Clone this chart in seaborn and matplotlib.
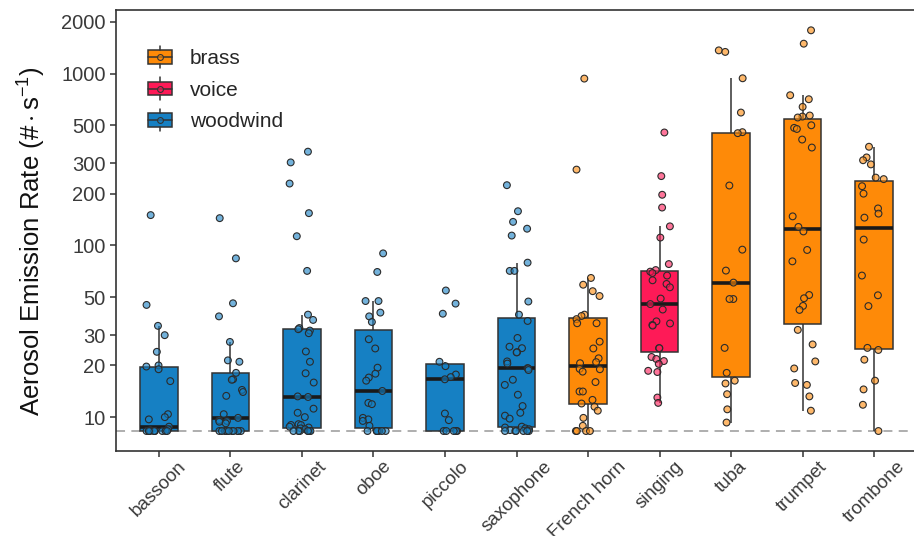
import numpy as np
import pandas as pd
import matplotlib
matplotlib.use("Agg")
import matplotlib.pyplot as plt
import seaborn as sns
from matplotlib.legend_handler import HandlerBase
from matplotlib.patches import Rectangle, Patch
from matplotlib.lines import Line2D
from matplotlib.ticker import FixedLocator, NullLocator, FixedFormatter

# ---- data: aerosol emission rate (#/s) per participant ----
instruments = ["bassoon", "flute", "clarinet", "oboe", "piccolo", "saxophone",
               "French horn", "singing", "tuba", "trumpet", "trombone"]
families = ["woodwind", "woodwind", "woodwind", "woodwind", "woodwind", "woodwind",
            "brass", "voice", "brass", "brass", "brass"]
family_order = ["brass", "voice", "woodwind"]
family_colors = ["#FE8A08", "#FE1A57", "#1680C3"]
detection_limit = 8.3

bassoon = [150, 45, 34, 30, 24, 20, 19.7, 19, 16.2, 10.4, 10.0, 9.7, 8.8, 8.5, 8.4,
           8.3, 8.3, 8.3, 8.3, 8.3, 8.3, 8.3, 8.3, 8.3, 8.3]
flute = [144, 84, 46, 38.6, 27.4, 21.4, 21.0, 18.1, 16.6, 16.5, 14.4, 14.0, 13.3, 10.4,
         9.9, 9.6, 9.5, 9.4, 9.2, 8.3, 8.3, 8.3, 8.3, 8.3, 8.3, 8.3, 8.3, 8.3, 8.3]
clarinet = [351, 304, 229, 154, 113, 71, 39.5, 36.8, 33, 32.5, 31.9, 30.8, 24.1, 21.0,
            18.0, 15.9, 13.2, 13.1, 11.2, 10.6, 10.0, 9.1, 9.0, 9.0, 8.8, 8.7, 8.6, 8.5,
            8.3, 8.3, 8.3, 8.3, 8.3, 8.3, 8.3]
oboe = [89.8, 70, 47.4, 47.4, 40.6, 38.6, 35.8, 28.4, 25.1, 19.4, 17.9, 17.0, 16.3, 14.2,
        12.1, 11.9, 9.9, 9.7, 9.5, 8.9, 8.3, 8.3, 8.3, 8.3, 8.3, 8.3, 8.3]
piccolo = [54.6, 45.8, 40, 21.0, 19.8, 17.7, 17.1, 16.6, 10.5, 9.6,
           8.3, 8.3, 8.3, 8.3, 8.3]
saxophone = [224, 158, 137, 125, 114, 79.3, 71, 71, 47.1, 39.5, 36.3, 28.9, 25.7, 25.2,
             23.9, 23.8, 21.1, 20.5, 19.3, 19.2, 18.8, 16.5, 15.4, 13.5, 11.6, 10.6, 10.2,
             9.8, 8.8, 8.7, 8.6, 8.5, 8.4, 8.3, 8.3, 8.3, 8.3, 8.3, 8.3]
french_horn = [935, 276, 64.6, 59, 54.1, 50.7, 39.5, 38.8, 37.2, 35.2, 35.2, 27.5, 25.1,
               22.0, 20.9, 20.6, 19.1, 19.0, 18.4, 16.0, 14.1, 14.1, 12.6, 12.0, 11.5,
               10.9, 9.9, 8.9, 8.3, 8.3, 8.3, 8.3]
singing = [454, 253, 197, 166, 129, 111, 77.8, 71.8, 70.3, 69, 66.7, 62.6, 59.6, 57.0,
           49.0, 45.5, 42.3, 36.1, 35.1, 34.4, 34.1, 25.2, 25.2, 22.4, 21.8, 21.2, 20.4,
           18.6, 18.3, 13.0, 12.1]
tuba = [1365, 1337, 939, 593, 456, 450, 223, 94.4, 71.3, 60.7, 48.7, 48.7, 25.3, 18.1,
        16.3, 15.7, 13.6, 11.1, 9.3]
trumpet = [1786, 1493, 748, 709, 640, 570, 562, 555, 500, 483, 476, 413, 371, 147.5, 128,
           120.5, 94, 80.7, 51.4, 49.2, 44.4, 42.1, 32.2, 26.5, 21.1, 19.2, 15.8, 15.4,
           13.2, 10.9]
trombone = [375, 325, 313, 296, 248, 243, 221, 200, 164, 153, 145, 108, 66.7, 51.2, 44.3,
            25.3, 24.6, 21.6, 16.3, 14.5, 11.8, 8.3]

y_ticks = [10, 20, 30, 50, 100, 200, 300, 500, 1000, 2000]

series = [bassoon, flute, clarinet, oboe, piccolo, saxophone,
          french_horn, singing, tuba, trumpet, trombone]
rows = []
for name, fam, vals in zip(instruments, families, series):
    for v in vals:
        rows.append((name, fam, v))
df = pd.DataFrame(rows, columns=["instrument", "family", "rate"])

# ---- style ----
sns.set_style("white")
plt.rcParams["font.family"] = ["Liberation Sans", "DejaVu Sans"]
plt.rcParams["mathtext.fontset"] = "custom"
plt.rcParams["mathtext.rm"] = "Liberation Sans"
plt.rcParams["mathtext.it"] = "Liberation Sans:italic"

fig = plt.figure(figsize=(9.14, 5.36), dpi=100)
W, H = 914, 536
ax = fig.add_axes([116 / W, 1 - 451 / H, 801 / W, 441 / H])

palette = dict(zip(family_order, family_colors))

ax.axhline(detection_limit, color="#A8A8A8", lw=1.3, ls=(0, (5, 3.5)), zorder=0)

sns.boxplot(data=df, x="instrument", y="rate", hue="family", order=instruments,
            hue_order=family_order, palette=palette, dodge=False, width=0.52,
            showfliers=False, showcaps=False, linecolor="#333333", linewidth=1.1,
            saturation=1, medianprops={"color": "#1a1a1a", "linewidth": 2.6},
            legend=False, ax=ax, zorder=2)

np.random.seed(11)
sns.stripplot(data=df, x="instrument", y="rate", hue="family", order=instruments,
              hue_order=family_order, palette=palette, dodge=False, jitter=0.18,
              size=4.9, edgecolor="#333333", linewidth=0.8, legend=False, ax=ax,
              zorder=3)

# translucent fill, solid outline for the jittered points
for coll in ax.collections:
    fc = coll.get_facecolors()
    if len(fc):
        fc[:, 3] = 0.6
        coll.set_facecolors(fc)
        coll.set_edgecolor("#2b2b2b")

ax.set_yscale("log")
ax.set_ylim(6.35, 2345)
ax.set_xlim(-0.6, 10.6)
ax.yaxis.set_major_locator(FixedLocator(y_ticks))
ax.yaxis.set_major_formatter(FixedFormatter([str(t) for t in y_ticks]))
ax.yaxis.set_minor_locator(NullLocator())

for sp in ax.spines.values():
    sp.set_color("#333333")
    sp.set_linewidth(1.2)

ax.tick_params(axis="both", which="major", length=4.5, width=1.1, color="#333333",
               labelcolor="#3a3a3a", left=True, bottom=True)
ax.tick_params(axis="y", labelsize=14.5, pad=3)
ax.tick_params(axis="x", labelsize=13.5, pad=0.5)
for lab in ax.get_xticklabels():
    lab.set_rotation(45)

ax.set_xlabel("")
ax.set_ylabel(r"Aerosol Emission Rate ($\#\cdot\mathrm{s}^{-1}$)", fontsize=18.5,
              color="#111111")
ax.yaxis.set_label_coords(-0.085, 0.476)


class BoxKey(HandlerBase):
    def create_artists(self, legend, orig, xd, yd, width, height, fontsize, trans):
        color = orig.get_facecolor()
        x0, y0 = -xd, -yd
        cx, cy = x0 + width / 2, y0 + height / 2
        ec = "#333333"
        box = Rectangle((x0, y0 + 0.2 * height), width, 0.6 * height,
                        facecolor=color, edgecolor=ec, lw=1.1)
        w1 = Line2D([cx, cx], [y0, y0 + 0.2 * height], color=ec, lw=1.1)
        w2 = Line2D([cx, cx], [y0 + 0.8 * height, y0 + height], color=ec, lw=1.1)
        med = Line2D([x0, x0 + width], [cy, cy], color=ec, lw=1.1)
        pt = Line2D([cx], [cy], marker="o", ms=4.2, ls="none",
                    mfc=(color[0], color[1], color[2], 0.6), mec="#333333", mew=0.8)
        arts = [box, w1, w2, med, pt]
        for a in arts:
            a.set_transform(trans)
        return arts


handles = [Patch(facecolor=c, label=f) for f, c in zip(family_order, family_colors)]
ax.legend(handles=handles, handler_map={Patch: BoxKey()}, loc="upper left",
          bbox_to_anchor=(0.040, 0.919), frameon=False, fontsize=15,
          handlelength=1.15, handleheight=1.3, labelspacing=0.42,
          handletextpad=0.85, borderpad=0, borderaxespad=0)

fig.savefig("out.png", dpi=100)
